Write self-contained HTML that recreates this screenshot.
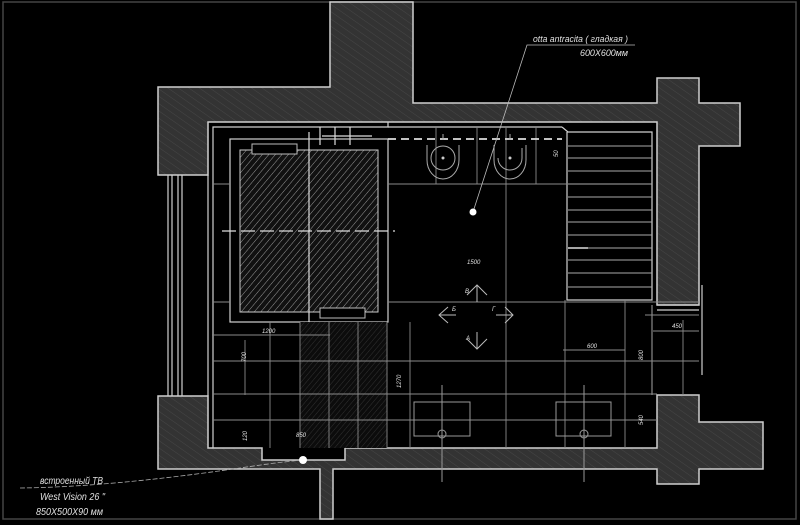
<!DOCTYPE html>
<html><head><meta charset="utf-8"><style>
html,body{margin:0;padding:0;background:#000;width:800px;height:525px;overflow:hidden}
svg{display:block}
text{font-family:"Liberation Sans","DejaVu Sans",sans-serif;fill:#e0e0e0;font-style:italic}
</style></head><body>
<svg width="800" height="525" viewBox="0 0 800 525" xmlns="http://www.w3.org/2000/svg">
<defs>
<pattern id="wh" width="6" height="6" patternUnits="userSpaceOnUse" patternTransform="rotate(-55)">
<rect width="6" height="6" fill="#333"/><line x1="0" y1="0" x2="0" y2="6" stroke="#4e4e4e" stroke-width="0.7"/></pattern>
<pattern id="sh" width="5" height="5" patternUnits="userSpaceOnUse" patternTransform="rotate(40)">
<rect width="5" height="5" fill="#111"/><line x1="0" y1="0" x2="0" y2="5" stroke="#999" stroke-width="1"/></pattern>
<pattern id="th" width="4" height="4" patternUnits="userSpaceOnUse" patternTransform="rotate(40)">
<rect width="4" height="4" fill="#0c0c0c"/><line x1="0" y1="0" x2="0" y2="4" stroke="#3a3a3a" stroke-width="0.8"/></pattern>
</defs>
<rect width="800" height="525" fill="#000"/>
<rect x="3" y="2" width="793" height="517" fill="none" stroke="#444" stroke-width="1.5"/>
<g fill="url(#wh)" stroke="#cfcfcf" stroke-width="1.5">
<path d="M330,2 H413 V103 H657 V78 H699 V103 H740 V146 H699 V305 H657 V122 H208 V175 H158 V87 H330 Z"/>
<path d="M657,395 H699 V422 H763 V469 H699 V484 H657 V469 H333 V519 H320 V469 H158 V396 H208 V448 H262 V460 H345 V448 H657 Z"/>
</g>
<g stroke="#d0d0d0" fill="none" stroke-width="1.2">
<path d="M213,448 V127 H388 V122"/>
<line x1="388" y1="127" x2="562" y2="127"/>
<path d="M562,127 L568,132 H652 V300 H567 V132"/>
<line x1="208" y1="175" x2="208" y2="396"/>
<line x1="168" y1="175" x2="168" y2="396"/><line x1="172" y1="175" x2="172" y2="396"/>
<line x1="178" y1="175" x2="178" y2="396"/><line x1="182" y1="175" x2="182" y2="396"/>
<line x1="657" y1="305" x2="699" y2="305"/><line x1="657" y1="310" x2="699" y2="310"/>
<line x1="702" y1="285" x2="702" y2="375"/>
<line x1="652" y1="305" x2="652" y2="395" stroke-width="0.8"/>
<rect x="230" y="139" width="158" height="183"/>
</g>
<rect x="240" y="150" width="138" height="162" fill="url(#sh)" stroke="#ccc"/>
<rect x="252" y="144" width="45" height="10" fill="#000" stroke="#bbb"/>
<rect x="320" y="308" width="45" height="10" fill="#000" stroke="#bbb"/>
<g stroke="#ddd" stroke-width="1.2"><line x1="309" y1="132" x2="309" y2="335"/>
<line x1="222" y1="231" x2="395" y2="231" stroke-dasharray="14,5"/>
<line x1="320" y1="127" x2="320" y2="145"/><line x1="335" y1="127" x2="335" y2="145"/><line x1="350" y1="127" x2="350" y2="145"/>
<line x1="322" y1="136" x2="372" y2="136"/></g>
<rect x="300" y="322" width="87" height="126" fill="url(#th)"/>
<g stroke="#8a8a8a" stroke-width="0.9" fill="none">
<line x1="213" y1="184" x2="230" y2="184"/><line x1="388" y1="184" x2="567" y2="184"/>
<line x1="213" y1="302" x2="230" y2="302"/><line x1="388" y1="302" x2="699" y2="302"/>
<line x1="213" y1="361" x2="699" y2="361"/>
<line x1="213" y1="394" x2="657" y2="394"/>
<line x1="213" y1="420" x2="657" y2="420"/>
<line x1="506" y1="127" x2="506" y2="448"/>
<line x1="565" y1="300" x2="565" y2="448"/>
<line x1="625" y1="300" x2="625" y2="448"/>
<line x1="270" y1="322" x2="270" y2="448"/><line x1="300" y1="322" x2="300" y2="448"/>
<line x1="329" y1="322" x2="329" y2="448"/><line x1="358" y1="322" x2="358" y2="448"/>
<line x1="387" y1="322" x2="387" y2="448"/><line x1="410" y1="322" x2="410" y2="448"/>
<line x1="436" y1="127" x2="436" y2="184"/><line x1="477" y1="127" x2="477" y2="184"/>
<line x1="536" y1="127" x2="536" y2="184"/>
<line x1="683" y1="320" x2="683" y2="395"/>
<line x1="212" y1="335" x2="330" y2="335"/>
<line x1="245" y1="340" x2="245" y2="395"/>
<line x1="563" y1="350" x2="625" y2="350"/>
<line x1="653" y1="331" x2="699" y2="331"/>
<line x1="645" y1="315" x2="699" y2="315"/>
</g>
<line x1="388" y1="139" x2="562" y2="139" stroke="#ddd" stroke-width="1.8" stroke-dasharray="8,5"/>
<g stroke="#aaa" fill="none" stroke-width="1">
<path d="M427,145 V160 A16,19 0 0 0 459,160 V145"/><circle cx="443" cy="158" r="12"/>
<path d="M494,145 V160 A16,19 0 0 0 526,160 V145"/><path d="M498,158 A12,12 0 0 0 522,158 V148"/>
<line x1="443" y1="134" x2="443" y2="140"/><line x1="510" y1="134" x2="510" y2="140"/>
</g>
<circle cx="443" cy="158" r="1.5" fill="#ccc"/><circle cx="510" cy="158" r="1.5" fill="#ccc"/>
<g stroke="#aaa" stroke-width="1">
<line x1="568" y1="146" x2="652" y2="146"/><line x1="568" y1="158" x2="652" y2="158"/>
<line x1="568" y1="171" x2="652" y2="171"/><line x1="568" y1="184" x2="652" y2="184"/>
<line x1="568" y1="197" x2="652" y2="197"/><line x1="568" y1="210" x2="652" y2="210"/>
<line x1="568" y1="222" x2="652" y2="222"/><line x1="568" y1="235" x2="652" y2="235"/>
<line x1="568" y1="248" x2="652" y2="248"/><line x1="568" y1="260" x2="652" y2="260"/>
<line x1="568" y1="273" x2="652" y2="273"/><line x1="568" y1="287" x2="652" y2="287"/>
</g>
<line x1="568" y1="248" x2="588" y2="248" stroke="#ddd" stroke-width="1.5"/>
<g stroke="#999" fill="none" stroke-width="1">
<rect x="414" y="402" width="56" height="34"/><rect x="556" y="402" width="55" height="34"/>
<line x1="442" y1="385" x2="442" y2="482"/><line x1="584" y1="385" x2="584" y2="482"/>
<circle cx="442" cy="434" r="4"/><circle cx="584" cy="434" r="4"/>
</g>
<g stroke="#bbb" fill="none" stroke-width="1">
<path d="M467,295 L477,285 L487,295 M477,285 V302"/>
<path d="M448,307 L439,315 L448,323 M439,315 H456"/>
<path d="M505,307 L513,315 L505,323 M496,315 H513"/>
<path d="M467,339 L477,349 L487,339 M477,332 V349"/>
</g>
<path d="M635,45 H527 L473,212" stroke="#bbb" fill="none" stroke-width="0.8"/>
<circle cx="473" cy="212" r="3.5" fill="#fff"/>
<path d="M20,488 Q110,487 240,468 Q280,462 303,460" stroke="#aaa" fill="none" stroke-width="0.8" stroke-dasharray="5,2"/>
<circle cx="303" cy="460" r="4" fill="#fff"/>
<g font-size="9">
<text x="533" y="42" textLength="95" lengthAdjust="spacingAndGlyphs">otta antracita ( гладкая )</text>
<text x="580" y="56" textLength="48" lengthAdjust="spacingAndGlyphs">600X600мм</text>
<text x="40" y="484" font-size="10" textLength="63" lengthAdjust="spacingAndGlyphs">встроенный ТВ</text>
<text x="40" y="500" font-size="10" textLength="65" lengthAdjust="spacingAndGlyphs">West Vision 26 "</text>
<text x="36" y="515" font-size="10" textLength="67" lengthAdjust="spacingAndGlyphs">850X500X90 мм</text>
</g>
<g font-size="6" style="font-style:normal">
<text x="467" y="264">1500</text>
<text x="465" y="293">В</text><text x="452" y="311">Б</text><text x="492" y="311">Г</text><text x="466" y="340">А</text>
<text x="262" y="333">1200</text><text x="296" y="437">850</text>
<text x="587" y="348">600</text><text x="672" y="328">450</text>
<text transform="translate(246,362) rotate(-90)">700</text>
<text transform="translate(401,388) rotate(-90)">1270</text>
<text transform="translate(247,441) rotate(-90)">120</text>
<text transform="translate(643,360) rotate(-90)">800</text>
<text transform="translate(643,425) rotate(-90)">540</text>
<text transform="translate(558,157) rotate(-90)">50</text>
</g>
</svg>
</body></html>
